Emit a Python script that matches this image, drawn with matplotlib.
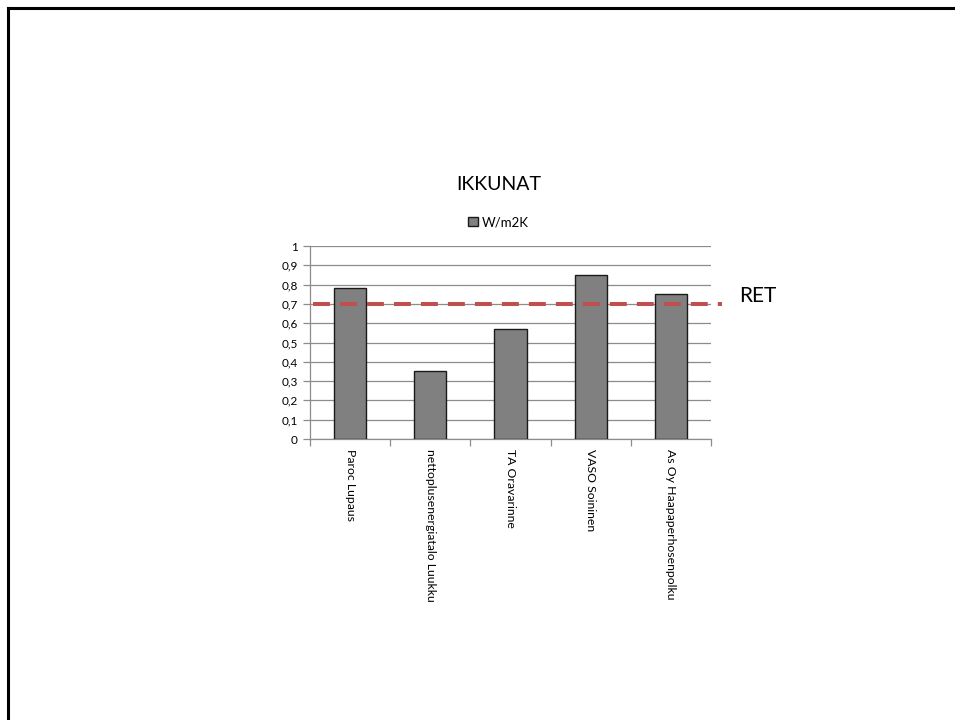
import matplotlib
matplotlib.use("Agg")
import matplotlib.pyplot as plt
from matplotlib.lines import Line2D
import matplotlib.transforms as mtransforms

plt.rcParams['font.family'] = ['Lato', 'DejaVu Sans']

categories = ["Paroc Lupaus", "nettoplusenergiatalo Luukku", "TA Oravarinne",
              "VASO Soininen", "As Oy Haapaperhosenpolku"]
u_values = [0.78, 0.35, 0.57, 0.85, 0.75]
ret_value = 0.70
y_ticks = [0, 0.1, 0.2, 0.3, 0.4, 0.5, 0.6, 0.7, 0.8, 0.9, 1.0]
y_tick_labels = [f"{v:g}".replace(".", ",") for v in y_ticks]

fig = plt.figure(figsize=(9.55, 7.2), dpi=100)

# slide frame
fig.add_artist(Line2D([8 / 955, 1.0], [1 - 8 / 720, 1 - 8 / 720],
                      transform=fig.transFigure, color="black", lw=2.2))
fig.add_artist(Line2D([8 / 955, 8 / 955], [1 - 8 / 720, 0.0],
                      transform=fig.transFigure, color="black", lw=2.2))

ax = fig.add_axes([310 / 955, 1 - 439 / 720, 401 / 955, 193 / 720])
x = range(len(categories))
ax.bar(x, u_values, width=0.4, color="#808080", edgecolor="#1a1a1a",
       linewidth=1.0, zorder=3, label="W/m2K")

ax.set_xlim(-0.5, len(categories) - 0.5)
ax.set_ylim(0, 1)
ax.set_yticks(y_ticks)
ax.set_yticklabels(y_tick_labels, fontsize=8.5)
ax.yaxis.grid(True, color="#8c8c8c", linewidth=0.9, zorder=0)
ax.set_axisbelow(True)

ax.set_xticks(list(x))
ax.set_xticklabels(categories, rotation=-90, fontsize=8.8, va="top", ha="center")
ax.tick_params(axis="x", which="major", length=0, pad=7)
ax.set_xticks([i - 0.5 for i in range(len(categories) + 1)], minor=True)
ax.tick_params(axis="x", which="minor", length=5, color="#8c8c8c", width=0.9)
ax.tick_params(axis="y", length=5, color="#8c8c8c", width=0.9, pad=4)

for side in ("top", "right"):
    ax.spines[side].set_visible(False)
for side in ("left", "bottom"):
    ax.spines[side].set_color("#8c8c8c")
    ax.spines[side].set_linewidth(0.9)

# reference level
trans = mtransforms.blended_transform_factory(ax.transAxes, ax.transData)
ax.plot([3 / 401, 412 / 401], [ret_value, ret_value], transform=trans,
        color="#C0504D", lw=2.9, dashes=(4.2, 2.5), clip_on=False, zorder=4)
ax.annotate("RET", xy=(1.07, ret_value), xycoords=trans, xytext=(0, 6),
            textcoords="offset points", fontsize=15, va="center", ha="left")

ax.set_title("IKKUNAT", fontsize=14, pad=40, x=0.47)
leg = ax.legend(loc="lower center", bbox_to_anchor=(0.47, 1.03), frameon=False,
                fontsize=9.5, handlelength=0.7, handleheight=0.7, handletextpad=0.3)

fig.savefig("out.png", dpi=100)
